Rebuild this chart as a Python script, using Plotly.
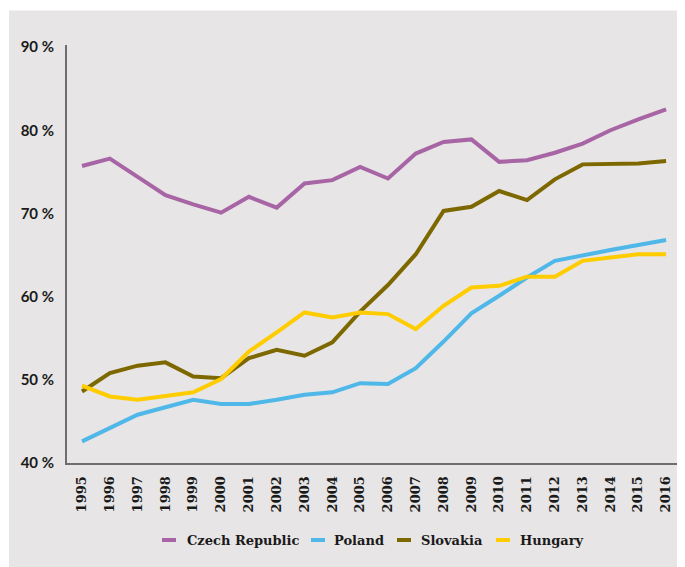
import plotly.graph_objects as go

years = list(range(1995, 2017))

czech = [75.7, 76.6, 74.4, 72.2, 71.1, 70.1, 72.0, 70.7, 73.6, 74.0, 75.6,
         74.2, 77.2, 78.6, 78.9, 76.2, 76.4, 77.3, 78.4, 80.0, 81.3, 82.5]
poland = [42.6, 44.2, 45.8, 46.7, 47.6, 47.1, 47.1, 47.6, 48.2, 48.5, 49.6,
          49.5, 51.4, 54.6, 58.0, 60.1, 62.3, 64.3, 65.0, 65.6, 66.2, 66.8]
slovakia = [48.6, 50.8, 51.7, 52.1, 50.4, 50.2, 52.6, 53.6, 52.9, 54.5, 58.2,
            61.4, 65.1, 70.3, 70.8, 72.7, 71.6, 74.1, 75.9, 75.9, 76.0, 76.3]
hungary = [49.3, 48.0, 47.6, 48.0, 48.5, 50.1, 53.4, 55.7, 58.1, 57.5, 58.1,
           57.9, 56.1, 58.9, 61.1, 61.3, 62.4, 62.4, 64.3, 64.7, 65.1, 65.1]

series_names = ["Czech Republic", "Poland", "Slovakia", "Hungary"]
series_values = [czech, poland, slovakia, hungary]
colors = ["#a865a5", "#4fb8e9", "#7d6800", "#ffcc00"]

y_ticks = [40, 50, 60, 70, 80, 90]

BG = "#e7e5e5"
AXIS = "#6e6e6e"
TXT = "#1a1a1a"

# figure sits at an 8px page offset (browser body margin)
OFF = 8
W, H = 685, 567
ml, mt = 59, 37
pw, ph = 618, 418
mr = W - ml - pw
mb = H - mt - ph

fig = go.Figure()
for name, vals, col in zip(series_names, series_values, colors):
    fig.add_trace(go.Scatter(
        x=years, y=vals, mode="lines", name=name,
        line=dict(color=col, width=4), showlegend=False,
    ))

# manual legend: short line swatch + label (page-pixel positions)
legend_sym_x = [162, 311, 397, 496]
legend_txt_x = [185, 332, 419, 518]
legend_y_page = 540


def px_x(p):
    return (p - OFF - ml) / pw


def px_y(p):
    return (mt + ph - (p - OFF)) / ph


shapes = [
    # thin white strips so the grey starts where it does in the reference
    dict(type="rect", xref="paper", yref="paper", layer="below",
         x0=px_x(0), x1=px_x(700), y0=px_y(10.5), y1=px_y(0),
         fillcolor="white", line=dict(width=0)),
    dict(type="rect", xref="paper", yref="paper", layer="below",
         x0=px_x(0), x1=px_x(9), y0=px_y(600), y1=px_y(0),
         fillcolor="white", line=dict(width=0)),
]
annotations = []
for name, col, sx, tx in zip(series_names, colors, legend_sym_x, legend_txt_x):
    shapes.append(dict(
        type="line", xref="paper", yref="paper",
        x0=px_x(sx), x1=px_x(sx + 14),
        y0=px_y(legend_y_page), y1=px_y(legend_y_page),
        line=dict(color=col, width=4),
    ))
    annotations.append(dict(
        xref="paper", yref="paper", x=px_x(tx), y=px_y(legend_y_page),
        xanchor="left", yanchor="middle", text=name, showarrow=False,
        font=dict(family="DejaVu Serif", size=13, color=TXT, weight="bold"),
    ))

fig.update_layout(
    width=W, height=H,
    margin=dict(l=ml, r=mr, t=mt, b=mb),
    paper_bgcolor=BG,
    plot_bgcolor=BG,
    showlegend=False,
    shapes=shapes,
    annotations=annotations,
    xaxis=dict(
        range=[1994.46, 2016.68], tickmode="array", tickvals=years,
        ticktext=[str(y) for y in years], tickangle=-90,
        showgrid=False, zeroline=False, showline=True, linecolor=AXIS,
        linewidth=2, ticks="", ticklabelstandoff=6,
        tickfont=dict(family="DejaVu Serif", size=13, color=TXT, weight="bold"),
    ),
    yaxis=dict(
        range=[40, 90.25], tickmode="array", tickvals=y_ticks,
        ticktext=[f"{v} %" for v in y_ticks],
        showgrid=False, zeroline=False, showline=True, linecolor=AXIS,
        linewidth=2, ticks="", ticklabelstandoff=8,
        tickfont=dict(family="Lato", size=15, color=TXT, weight="bold"),
    ),
)

fig.write_html("out.html", config={"displayModeBar": False})
